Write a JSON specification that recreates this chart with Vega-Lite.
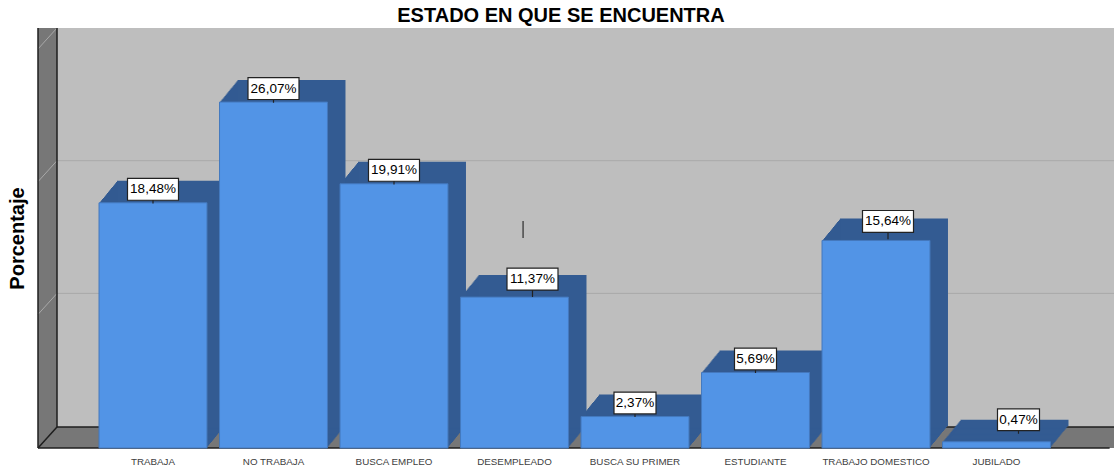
{"$schema":"https://vega.github.io/schema/vega-lite/v6.json","width":1076,"height":420,"autosize":"none","padding":{"left":38,"top":28,"right":0,"bottom":23},"background":"white","view":{"fill":"#BEBEBE","stroke":null},"config":{"font":"Liberation Sans"},"title":{"text":"ESTADO EN QUE SE ENCUENTRA","anchor":"middle","font":"Liberation Sans","fontSize":20,"fontWeight":"bold","color":"#000000","dx":-15,"offset":1},"datasets":{"barras":[{"estado":"TRABAJA","porcentaje":18.48,"etiqueta":"18,48%"},{"estado":"NO TRABAJA","porcentaje":26.07,"etiqueta":"26,07%"},{"estado":"BUSCA EMPLEO","porcentaje":19.91,"etiqueta":"19,91%"},{"estado":"DESEMPLEADO","porcentaje":11.37,"etiqueta":"11,37%"},{"estado":"BUSCA SU PRIMER","porcentaje":2.37,"etiqueta":"2,37%"},{"estado":"ESTUDIANTE","porcentaje":5.69,"etiqueta":"5,69%"},{"estado":"TRABAJO DOMESTICO","porcentaje":15.64,"etiqueta":"15,64%"},{"estado":"JUBILADO","porcentaje":0.47,"etiqueta":"0,47%"}],"marco":[{"tipo":"pared","a":0,"a2":1,"v":0,"v2":31.65},{"tipo":"pared","a":0,"a2":56.63,"v":0,"v2":1.58},{"tipo":"borde","a":0,"a2":0,"v":0,"v2":31.65},{"tipo":"borde","a":1,"a2":1,"v":1.58,"v2":31.65},{"tipo":"borde","a":0,"a2":1,"v":0,"v2":1.58},{"tipo":"borde","a":1,"a2":56.63,"v":1.58,"v2":1.58},{"tipo":"borde","a":0,"a2":56.4,"v":0,"v2":0},{"tipo":"rejilla","a":1,"a2":56.63,"v":11.65,"v2":11.65},{"tipo":"rejilla","a":1,"a2":56.63,"v":21.65,"v2":21.65},{"tipo":"rejilla","a":0,"a2":1,"v":10.07,"v2":11.65},{"tipo":"rejilla","a":0,"a2":1,"v":20.07,"v2":21.65},{"tipo":"rejilla","a":0,"a2":1,"v":30.07,"v2":31.65},{"tipo":"marca","a":25.53,"a2":25.53,"v":15.83,"v2":17.1}]},"resolve":{"scale":{"x":"independent"}},"layer":[{"data":{"name":"marco"},"encoding":{"x":{"field":"a","type":"quantitative","scale":{"domain":[0,56.63],"nice":false,"zero":false},"axis":null},"x2":{"field":"a2"},"y":{"field":"v","type":"quantitative","scale":{"domain":[0,31.65],"nice":false},"axis":{"title":"Porcentaje","labels":false,"ticks":false,"domain":false,"grid":false,"titleFontSize":20,"titleFontWeight":"bold","titleColor":"#000000","titleFont":"Liberation Sans","titleX":-11,"titleY":210}},"y2":{"field":"v2"}},"layer":[{"transform":[{"filter":"datum.tipo==='pared'"}],"mark":{"type":"rect","color":"#777777"}},{"transform":[{"filter":"datum.tipo==='rejilla'"}],"mark":{"type":"rule","color":"#A9A9A9","strokeWidth":1}},{"transform":[{"filter":"datum.tipo==='borde'"}],"mark":{"type":"rule","color":"#1E1E1E","strokeWidth":1.5}},{"transform":[{"filter":"datum.tipo==='marca'"}],"mark":{"type":"rule","color":"#4A4A4A","strokeWidth":1.5}}]},{"data":{"name":"barras"},"encoding":{"x":{"field":"estado","type":"nominal","sort":null,"scale":{"domain":["TRABAJA","NO TRABAJA","BUSCA EMPLEO","DESEMPLEADO","BUSCA SU PRIMER","ESTUDIANTE","TRABAJO DOMESTICO","JUBILADO"],"range":[54.75,1018.75],"paddingInner":0.104,"paddingOuter":0.052},"axis":{"title":null,"labelAngle":0,"labelFontSize":9.8,"labelColor":"#404040","labelFont":"Liberation Sans","labelPadding":8,"ticks":false,"domain":false,"grid":false}},"y":{"field":"porcentaje","type":"quantitative","scale":{"domain":[0,31.65],"nice":false},"axis":{"title":"Porcentaje","labels":false,"ticks":false,"domain":false,"grid":false,"titleFontSize":20,"titleFontWeight":"bold","titleColor":"#000000","titleFont":"Liberation Sans","titleX":-11,"titleY":210}}},"layer":[{"mark":{"type":"bar","color":"#335B92","xOffset":1,"yOffset":-1.22}},{"mark":{"type":"bar","color":"#335B92","xOffset":2,"yOffset":-2.44}},{"mark":{"type":"bar","color":"#335B92","xOffset":3,"yOffset":-3.67}},{"mark":{"type":"bar","color":"#335B92","xOffset":4,"yOffset":-4.89}},{"mark":{"type":"bar","color":"#335B92","xOffset":5,"yOffset":-6.11}},{"mark":{"type":"bar","color":"#335B92","xOffset":6,"yOffset":-7.33}},{"mark":{"type":"bar","color":"#335B92","xOffset":7,"yOffset":-8.56}},{"mark":{"type":"bar","color":"#335B92","xOffset":8,"yOffset":-9.78}},{"mark":{"type":"bar","color":"#335B92","xOffset":9,"yOffset":-11}},{"mark":{"type":"bar","color":"#335B92","xOffset":10,"yOffset":-12.22}},{"mark":{"type":"bar","color":"#335B92","xOffset":11,"yOffset":-13.44}},{"mark":{"type":"bar","color":"#335B92","xOffset":12,"yOffset":-14.67}},{"mark":{"type":"bar","color":"#335B92","xOffset":13,"yOffset":-15.89}},{"mark":{"type":"bar","color":"#335B92","xOffset":14,"yOffset":-17.11}},{"mark":{"type":"bar","color":"#335B92","xOffset":15,"yOffset":-18.33}},{"mark":{"type":"bar","color":"#335B92","xOffset":16,"yOffset":-19.56}},{"mark":{"type":"bar","color":"#335B92","xOffset":17,"yOffset":-20.78}},{"mark":{"type":"bar","color":"#335B92","xOffset":18,"yOffset":-22}},{"mark":{"type":"bar","color":"#5294E6","stroke":"#4479BE","strokeWidth":1}},{"transform":[{"filter":"indexof(['TRABAJA','NO TRABAJA','BUSCA EMPLEO'],datum.estado)>=0"}],"mark":{"type":"point","filled":true,"fill":"white","opacity":1,"stroke":"#222222","strokeWidth":1.2,"size":2601,"shape":"M-1,-0.43H1V0.43H-1ZM0,0.43V0.56","yOffset":-13.5}},{"transform":[{"filter":"indexof(['TRABAJA','NO TRABAJA','BUSCA EMPLEO'],datum.estado)>=0"}],"mark":{"type":"text","fontSize":13.5,"color":"#000000","yOffset":-13.5},"encoding":{"text":{"field":"etiqueta"}}},{"transform":[{"filter":"indexof(['BUSCA SU PRIMER','ESTUDIANTE'],datum.estado)>=0"}],"mark":{"type":"point","filled":true,"fill":"white","opacity":1,"stroke":"#222222","strokeWidth":1.2,"size":1764,"shape":"M-1,-0.52H1V0.52H-1ZM0,0.52V0.67","yOffset":-13.5}},{"transform":[{"filter":"indexof(['BUSCA SU PRIMER','ESTUDIANTE'],datum.estado)>=0"}],"mark":{"type":"text","fontSize":13.5,"color":"#000000","yOffset":-13.5},"encoding":{"text":{"field":"etiqueta"}}},{"transform":[{"filter":"datum.estado==='DESEMPLEADO'"}],"mark":{"type":"point","filled":true,"fill":"white","opacity":1,"stroke":"#222222","strokeWidth":1.2,"size":2601,"shape":"M-1,-0.43H1V0.43H-1ZM0,0.43V0.7","xOffset":18,"yOffset":-18}},{"transform":[{"filter":"datum.estado==='DESEMPLEADO'"}],"mark":{"type":"text","fontSize":13.5,"color":"#000000","xOffset":18,"yOffset":-18},"encoding":{"text":{"field":"etiqueta"}}},{"transform":[{"filter":"datum.estado==='TRABAJO DOMESTICO'"}],"mark":{"type":"point","filled":true,"fill":"white","opacity":1,"stroke":"#222222","strokeWidth":1.2,"size":2601,"shape":"M-1,-0.43H1V0.43H-1ZM0,0.43V0.7","xOffset":12,"yOffset":-19}},{"transform":[{"filter":"datum.estado==='TRABAJO DOMESTICO'"}],"mark":{"type":"text","fontSize":13.5,"color":"#000000","xOffset":12,"yOffset":-19},"encoding":{"text":{"field":"etiqueta"}}},{"transform":[{"filter":"datum.estado==='JUBILADO'"}],"mark":{"type":"point","filled":true,"fill":"white","opacity":1,"stroke":"#222222","strokeWidth":1.2,"size":1764,"shape":"M-1,-0.52H1V0.52H-1ZM0,0.52V0.67","xOffset":22,"yOffset":-22}},{"transform":[{"filter":"datum.estado==='JUBILADO'"}],"mark":{"type":"text","fontSize":13.5,"color":"#000000","xOffset":22,"yOffset":-22},"encoding":{"text":{"field":"etiqueta"}}}]}]}
